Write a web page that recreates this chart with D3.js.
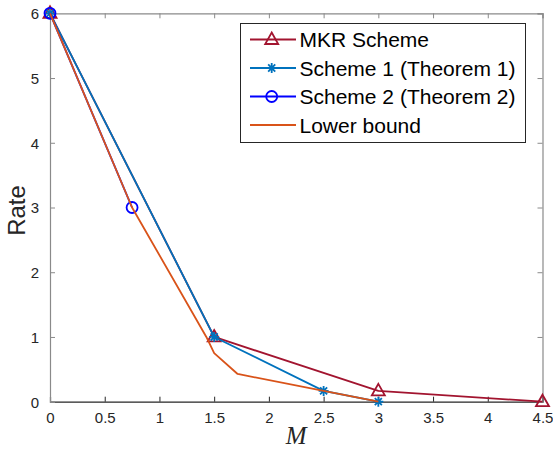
<!DOCTYPE html>
<html><head><meta charset="utf-8">
<script src="https://cdn.jsdelivr.net/npm/d3@7"></script>
<style>body{margin:0;background:#fff}svg{display:block}</style>
</head><body><svg id="c" width="553" height="452"></svg>
<script>
const seriesNames = ["MKR Scheme", "Scheme 1 (Theorem 1)", "Scheme 2 (Theorem 2)", "Lower bound"];
const mkrX = [0, 1.5, 3, 4.5];
const mkrY = [6, 1, 0.1667, 0];
const s1X = [0, 1.5, 2.5, 3];
const s1Y = [6, 1, 0.1667, 0];
const s2X = [0, 0.75];
const s2Y = [6, 3];
const lbX = [0, 0.75, 1.4286, 1.5, 1.7143, 2.5, 3];
const lbY = [6, 3, 1, 0.75, 0.4286, 0.1667, 0];
const xTicks = [0, 0.5, 1, 1.5, 2, 2.5, 3, 3.5, 4, 4.5];
const yTicks = [0, 1, 2, 3, 4, 5, 6];
const xLabel = "M", yLabel = "Rate";

const colors = ["#A2142F", "#0072BD", "#0000FF", "#D95319"];
const markers = ["triangle", "star", "circle", "none"];

const svg = d3.select("#c");
const L = 50, R = 542.5, T = 13.3, B = 401.7;
const x = d3.scaleLinear().domain([0, 4.5]).range([L, R]);
const y = d3.scaleLinear().domain([0, 6]).range([B, T]);
const font = "'Liberation Sans', Arial, Helvetica, sans-serif";

// axes
const gx = svg.append("g").attr("transform", `translate(0,${B})`)
  .call(d3.axisBottom(x).tickValues(xTicks).tickSize(-5).tickPadding(11).tickFormat(d3.format("")));
const gy = svg.append("g").attr("transform", `translate(${L},0)`)
  .call(d3.axisLeft(y).tickValues(yTicks).tickSize(-5).tickPadding(11).tickFormat(d3.format("")));
const gt = svg.append("g").attr("transform", `translate(0,${T})`)
  .call(d3.axisTop(x).tickValues(xTicks).tickSize(-5).tickFormat(""));
const gr = svg.append("g").attr("transform", `translate(${R},0)`)
  .call(d3.axisRight(y).tickValues(yTicks).tickSize(-5).tickFormat(""));
[gx, gy, gt, gr].forEach(g => {
  g.selectAll(".domain").attr("stroke", "#8a8a8a").attr("stroke-width", 1.2);
  g.selectAll(".tick line").attr("stroke", "#8a8a8a").attr("stroke-width", 1);
  g.selectAll("text").attr("font-family", font).attr("font-size", 15).attr("fill", "#262626");
});
gx.selectAll(".domain").attr("stroke", "#262626");
gx.selectAll(".tick line").attr("stroke", "#262626");
gy.selectAll("text").attr("dy", "0.36em");

// labels
svg.append("text").attr("x", (L + R) / 2).attr("y", 444).attr("text-anchor", "middle")
  .attr("font-family", "'Liberation Serif', 'Times New Roman', serif").attr("font-style", "italic")
  .attr("font-size", 25).attr("fill", "#262626").text(xLabel);
svg.append("text").attr("transform", `translate(25,${(T + B) / 2 + 3}) rotate(-90)`).attr("text-anchor", "middle")
  .attr("font-family", font).attr("font-size", 24).attr("fill", "#262626").text(yLabel);

const data = [[mkrX, mkrY], [s1X, s1Y], [s2X, s2Y], [lbX, lbY]];
const line = d3.line().x(d => x(d[0])).y(d => y(d[1]));

function drawMarker(g, type, cx, cy, color) {
  if (type === "triangle") {
    g.append("path").attr("d", `M${cx},${cy - 7}L${cx + 6.5},${cy + 4.5}L${cx - 6.5},${cy + 4.5}Z`)
      .attr("fill", "none").attr("stroke", color).attr("stroke-width", 1.8);
  } else if (type === "circle") {
    g.append("circle").attr("cx", cx).attr("cy", cy).attr("r", 5.5)
      .attr("fill", "none").attr("stroke", color).attr("stroke-width", 1.8);
  } else if (type === "star") {
    const r = 5;
    let d = "";
    [0, 45, 90, 135].forEach(a => {
      const t = a * Math.PI / 180;
      d += `M${cx - r * Math.cos(t)},${cy - r * Math.sin(t)}L${cx + r * Math.cos(t)},${cy + r * Math.sin(t)}`;
    });
    g.append("path").attr("d", d).attr("stroke", color).attr("stroke-width", 1.8).attr("fill", "none");
  }
}

data.forEach((s, i) => {
  const pts = s[0].map((v, j) => [v, s[1][j]]);
  const g = svg.append("g");
  g.append("path").datum(pts).attr("d", line).attr("fill", "none")
    .attr("stroke", colors[i]).attr("stroke-width", 1.8).attr("stroke-linejoin", "round");
  pts.forEach(p => drawMarker(g, markers[i], x(p[0]), y(p[1]), colors[i]));
});

// legend
const lg = svg.append("g");
lg.append("rect").attr("x", 240.5).attr("y", 23.5).attr("width", 285).attr("height", 119)
  .attr("fill", "#fff").attr("stroke", "#262626").attr("stroke-width", 1);
const rowY = [39.5, 68, 96.5, 125];
seriesNames.forEach((n, i) => {
  lg.append("line").attr("x1", 250).attr("x2", 296).attr("y1", rowY[i]).attr("y2", rowY[i])
    .attr("stroke", colors[i]).attr("stroke-width", 1.8);
  drawMarker(lg, markers[i], 271.7, rowY[i], colors[i]);
  lg.append("text").attr("x", 299.5).attr("y", rowY[i]).attr("dy", "0.36em")
    .attr("font-family", font).attr("font-size", 21).attr("fill", "#000").text(n);
});
</script></body></html>
